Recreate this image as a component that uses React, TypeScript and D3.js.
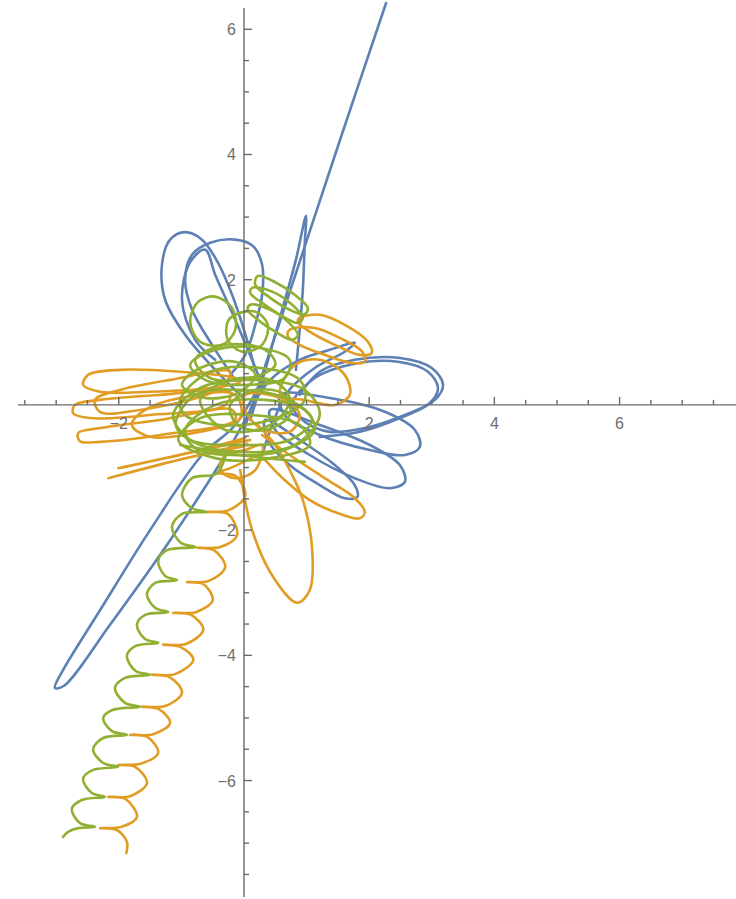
import React from 'react';
import * as d3 from 'd3';

// plot window (data units)
const xDomain: [number, number] = [-3.61, 7.86];
const yDomain: [number, number] = [6.34, -7.86];

const xMajor = [-2, 2, 4, 6];
const yMajor = [-6, -4, -2, 2, 4, 6];

type Pt = [number, number];

// ---- body 1 (blue)
const blueTail: Pt[] = [[0.10, -0.24], [0.34, 0.56], [0.61, 1.52], [0.83, 2.32], [0.99, 3.02], [0.97, 2.56], [0.94, 1.84], [0.89, 1.20], [0.83, 0.56]];
const blueEscape: Pt[] = [[0.00, -0.40], [0.37, 0.72], [0.69, 1.68], [1.02, 2.68], [1.53, 4.22], [2.27, 6.42]];
const blueLongLoop: Pt[] = [[0.29, 0.40], [-0.14, -0.32], [-0.67, -0.80], [-1.50, -2.00], [-2.30, -3.28], [-2.91, -4.27], [-3.02, -4.52], [-2.88, -4.49], [-2.14, -3.51], [-1.18, -2.16], [-0.30, -0.80], [0.02, -0.24], [0.34, 0.40]];
const blueLobeA: Pt[] = [[0.02, 0.08], [-0.46, 0.56], [-0.94, 1.12], [-1.26, 1.68], [-1.31, 2.24], [-1.18, 2.64], [-0.94, 2.76], [-0.67, 2.64], [-0.42, 2.28], [-0.19, 1.76], [0.00, 1.20], [0.18, 0.56]];
const blueLobeB: Pt[] = [[-0.14, 0.40], [-0.51, 0.96], [-0.83, 1.52], [-0.94, 2.00], [-0.83, 2.40], [-0.54, 2.59], [-0.14, 2.64], [0.14, 2.54], [0.29, 2.24], [0.29, 1.76], [0.18, 1.28], [0.02, 0.80], [-0.22, 0.48]];
const blueLobeC: Pt[] = [[0.26, 0.40], [-0.14, 1.36], [-0.46, 2.08], [-0.62, 2.48], [-0.86, 2.28], [-0.99, 1.68], [-0.78, 1.04], [-0.46, 0.72]];
const blueRightA: Pt[] = [[0.89, 0.16], [1.21, 0.53], [1.77, 0.72], [2.49, 0.75], [3.00, 0.59], [3.18, 0.32], [3.05, 0.08], [2.57, -0.16], [1.93, -0.37], [1.37, -0.43], [0.97, -0.27],
  [0.77, 0.00], [1.13, 0.43], [1.73, 0.65], [2.46, 0.69], [2.94, 0.53], [3.10, 0.27], [2.97, 0.03], [2.49, -0.21], [1.85, -0.43], [1.21, -0.51]];
const blueRightB: Pt[] = [[0.58, 0.16], [1.37, 0.11], [2.25, -0.11], [2.73, -0.40], [2.81, -0.67], [2.57, -0.80], [2.01, -0.72], [1.21, -0.48], [0.65, -0.16]];
const blueRightC: Pt[] = [[0.42, -0.08], [1.21, -0.32], [2.01, -0.64], [2.49, -0.96], [2.57, -1.23], [2.33, -1.33], [1.77, -1.17], [1.05, -0.80], [0.50, -0.40]];
const blueRightD: Pt[] = [[0.34, -0.24], [0.89, -0.56], [1.45, -0.96], [1.77, -1.28], [1.81, -1.47], [1.61, -1.49], [1.21, -1.28], [0.73, -0.96], [0.38, -0.56]];
const blueCenter: Pt[] = [[0.10, -0.08], [0.42, 0.40], [0.89, 0.72], [1.37, 0.88], [1.77, 0.99], [1.61, 0.85], [1.13, 0.59], [0.70, 0.21], [0.45, -0.32], [0.29, -0.80]];

// ---- body 2 (orange)
const orangeLeftA: Pt[] = [[-0.14, 0.43], [-1.02, 0.53], [-1.98, 0.56], [-2.49, 0.48], [-2.57, 0.32], [-2.30, 0.21], [-1.50, 0.21], [-0.54, 0.27], [-0.06, 0.37]];
const orangeLeftB: Pt[] = [[-0.22, 0.21], [-1.34, 0.16], [-2.30, 0.08], [-2.70, 0.00], [-2.73, -0.13], [-2.46, -0.21], [-1.50, -0.16], [-0.30, 0.00]];
const orangeLeftC: Pt[] = [[-0.19, -0.08], [-1.34, -0.24], [-2.30, -0.37], [-2.65, -0.45], [-2.62, -0.58], [-2.30, -0.59], [-1.34, -0.48], [-0.14, -0.24]];
const orangeLeftD: Pt[] = [[-0.14, 0.16], [-1.02, 0.11], [-1.58, -0.08], [-1.79, -0.32], [-1.50, -0.51], [-0.70, -0.43], [-0.06, -0.21]];
const orangeLeftE: Pt[] = [[-0.22, 0.53], [-1.18, 0.40], [-1.98, 0.24], [-2.38, 0.08], [-2.30, -0.11], [-1.66, -0.08], [-0.38, 0.27]];
const orangeStreakA: Pt[] = [[0.02, -0.53], [-1.02, -0.80], [-2.01, -1.01], [-1.90, -0.99], [-0.90, -0.77], [0.10, -0.56]];
const orangeStreakB: Pt[] = [[0.00, -0.66], [-1.18, -0.91], [-2.17, -1.17], [-2.05, -1.14], [-1.05, -0.88], [0.05, -0.62]];
const orangeUpperA: Pt[] = [[0.89, 1.39], [1.21, 1.44], [1.61, 1.28], [1.98, 1.01], [2.04, 0.83], [1.85, 0.80], [1.45, 0.96], [1.05, 1.17], [0.86, 1.33]];
const orangeUpperB: Pt[] = [[0.73, 1.20], [1.13, 1.23], [1.53, 1.07], [1.89, 0.85], [1.93, 0.69], [1.73, 0.67], [1.29, 0.80], [0.89, 0.96], [0.70, 1.10]];
const orangeUpperC: Pt[] = [[0.58, 0.16], [0.81, 0.64], [1.21, 0.72], [1.61, 0.48], [1.69, 0.16], [1.45, 0.00], [0.97, 0.08]];
const orangeDrop: Pt[] = [[-0.06, -1.04], [0.13, -2.00], [0.50, -2.80], [0.85, -3.16], [1.05, -2.96], [1.09, -2.32], [0.94, -1.52], [0.73, -1.04], [0.50, -0.64], [0.22, -0.32]];
const orangeSwing: Pt[] = [[0.29, -0.48], [0.73, -0.80], [1.29, -1.17], [1.77, -1.49], [1.93, -1.71], [1.85, -1.81], [1.53, -1.74], [1.05, -1.52], [0.65, -1.20], [0.34, -0.88]];
const orangeSmall: Pt[] = [[0.29, -0.64], [0.18, -1.04], [-0.14, -1.17], [-0.38, -1.04], [-0.30, -0.80], [0.02, -0.72]];
const orangeMid: Pt[] = [[0.02, 0.16], [0.58, 0.11], [0.89, -0.16], [0.73, -0.43], [0.26, -0.37], [0.02, -0.08]];
const orangeHelix: Pt[] = [[0.22, -0.80], [-0.22, -1.01], [-0.43, -1.09], [-0.14, -1.13], [0.02, -1.45], [-0.24, -1.68],
  [-0.59, -1.71], [-0.26, -1.74], [-0.11, -2.08], [-0.38, -2.27],
  [-0.75, -2.28], [-0.48, -2.32], [-0.30, -2.59], [-0.56, -2.81], [-0.91, -2.83], [-0.65, -2.86], [-0.50, -3.12], [-0.77, -3.31],
  [-1.13, -3.32], [-0.85, -3.35], [-0.65, -3.59], [-0.93, -3.82], [-1.29, -3.83], [-1.01, -3.87], [-0.81, -4.07], [-1.10, -4.30],
  [-1.47, -4.31], [-1.18, -4.35], [-0.99, -4.60], [-1.26, -4.81], [-1.63, -4.82], [-1.36, -4.86], [-1.18, -5.08], [-1.45, -5.26],
  [-1.82, -5.27], [-1.55, -5.30], [-1.37, -5.56], [-1.65, -5.73], [-2.01, -5.75], [-1.74, -5.78], [-1.55, -6.04], [-1.82, -6.25],
  [-2.17, -6.26], [-1.90, -6.29], [-1.71, -6.58], [-1.96, -6.74], [-2.30, -6.76], [-2.03, -6.79], [-1.87, -6.98], [-1.88, -7.16]];

// ---- body 3 (green)
const greenHelix: Pt[] = [[-0.27, -0.72], [-0.43, -1.09], [-0.83, -1.17], [-0.99, -1.44], [-0.83, -1.65], [-0.59, -1.71],
  [-0.99, -1.74], [-1.15, -1.95], [-1.01, -2.20], [-0.78, -2.27], [-1.23, -2.32], [-1.37, -2.49], [-1.26, -2.73], [-1.07, -2.80],
  [-1.41, -2.84], [-1.55, -3.02], [-1.42, -3.24], [-1.21, -3.31], [-1.57, -3.35], [-1.71, -3.51], [-1.58, -3.74], [-1.37, -3.80],
  [-1.73, -3.85], [-1.87, -4.01], [-1.73, -4.25], [-1.50, -4.31], [-1.90, -4.36], [-2.06, -4.52], [-1.90, -4.76], [-1.66, -4.82],
  [-2.09, -4.87], [-2.25, -5.00], [-2.11, -5.21], [-1.87, -5.27], [-2.25, -5.32], [-2.41, -5.50], [-2.25, -5.72], [-2.01, -5.78],
  [-2.41, -5.83], [-2.57, -5.97], [-2.43, -6.20], [-2.22, -6.26], [-2.59, -6.31], [-2.75, -6.45], [-2.62, -6.68], [-2.38, -6.74],
  [-2.65, -6.76], [-2.81, -6.82], [-2.89, -6.90]];
const greenUpperA: Pt[] = [[0.22, 2.06], [0.50, 1.96], [0.81, 1.76], [1.02, 1.55], [0.97, 1.45], [0.73, 1.52], [0.42, 1.71], [0.18, 1.92]];
const greenUpperB: Pt[] = [[0.13, 1.87], [0.45, 1.81], [0.77, 1.60], [0.94, 1.39], [0.86, 1.31], [0.61, 1.42], [0.29, 1.63], [0.10, 1.79]];
const greenUpperC: Pt[] = [[0.10, 1.60], [0.42, 1.52], [0.70, 1.33], [0.86, 1.12], [0.77, 1.04], [0.50, 1.17], [0.22, 1.36], [0.06, 1.52]];
const greenRingA: Pt[] = [[-0.46, 1.73], [-0.19, 1.55], [-0.14, 1.20], [-0.35, 0.96], [-0.70, 1.01], [-0.86, 1.33], [-0.73, 1.65]];
const greenRingB: Pt[] = [[-0.14, 1.44], [0.18, 1.49], [0.38, 1.28], [0.29, 0.96], [-0.03, 0.85], [-0.26, 1.04], [-0.26, 1.33]];
const greenCore1: Pt[] = [[-1.13, -0.16], [-0.70, 0.27], [0.10, 0.40], [0.97, 0.24], [1.21, -0.16], [0.81, -0.64], [-0.06, -0.75], [-0.86, -0.56]];
const greenCore2: Pt[] = [[-1.02, 0.08], [-0.54, 0.53], [0.26, 0.59], [0.89, 0.40], [0.97, 0.08], [0.42, -0.24], [-0.38, -0.32], [-0.94, -0.16]];
const greenCore3: Pt[] = [[-0.94, -0.40], [-0.46, 0.00], [0.34, 0.08], [0.97, -0.08], [1.13, -0.40], [0.65, -0.72], [-0.22, -0.80], [-0.78, -0.69]];
const greenCore4: Pt[] = [[-0.86, 0.64], [-0.46, 0.88], [0.26, 0.91], [0.73, 0.72], [0.65, 0.43], [0.02, 0.32], [-0.62, 0.40]];
const greenCore5: Pt[] = [[-1.05, -0.56], [-0.70, -0.21], [0.10, -0.16], [0.89, -0.32], [1.05, -0.64], [0.42, -0.85], [-0.46, -0.85]];
const greenCore6: Pt[] = [[-0.99, 0.32], [-0.70, 0.59], [-0.14, 0.69], [0.18, 0.48], [-0.06, 0.21], [-0.62, 0.11]];
const greenCore7: Pt[] = [[-0.70, 0.08], [-0.22, 0.40], [0.50, 0.37], [0.73, 0.08], [0.42, -0.32], [-0.30, -0.40]];
const greenCore8: Pt[] = [[-0.22, 0.00], [0.18, 0.24], [0.65, 0.16], [0.73, -0.16], [0.34, -0.40], [-0.10, -0.32]];
const greenCore9: Pt[] = [[-1.09, -0.32], [-0.78, 0.16], [-0.06, 0.24], [0.73, 0.08], [1.09, -0.24], [0.73, -0.56], [-0.14, -0.64], [-0.86, -0.56]];
const greenCore10: Pt[] = [[-0.78, 0.72], [-0.30, 0.96], [0.34, 0.88], [0.50, 0.64], [0.10, 0.43], [-0.54, 0.43]];
const greenStreak: Pt[] = [[-1.02, -0.64], [-0.06, -0.80], [0.97, -0.91]];

const series = [
  { color: '#5E81B5', open: [blueTail, blueEscape, blueLongLoop, blueLobeA, blueLobeB, blueLobeC, blueRightA, blueCenter],
    closed: [blueRightB, blueRightC, blueRightD] },
  { color: '#E19C24', open: [orangeStreakA, orangeStreakB, orangeHelix, orangeDrop, orangeSwing],
    closed: [orangeLeftA, orangeLeftB, orangeLeftC, orangeLeftD, orangeLeftE, orangeUpperA, orangeUpperB, orangeUpperC, orangeSmall, orangeMid] },
  { color: '#8FB032', open: [greenHelix, greenStreak],
    closed: [greenUpperA, greenUpperB, greenUpperC, greenRingA, greenRingB, greenCore1, greenCore2, greenCore3, greenCore4,
      greenCore5, greenCore6, greenCore7, greenCore8, greenCore9, greenCore10] },
];

export default function App() {
  const width = 736, height = 899;
  const x = d3.scaleLinear().domain(xDomain).range([18, 736]);
  const y = d3.scaleLinear().domain(yDomain).range([8, 897]);

  const openLine = d3.line<Pt>().x(d => x(d[0])).y(d => y(d[1])).curve(d3.curveCatmullRom.alpha(0.5));
  const closedLine = d3.line<Pt>().x(d => x(d[0])).y(d => y(d[1])).curve(d3.curveCatmullRomClosed.alpha(0.5));

  const xTicks = d3.range(-3.5, 8, 0.5).filter(v => v !== 0);
  const yTicks = d3.range(-7.5, 6.5, 0.5).filter(v => v !== 0);
  const fmt = (v: number) => (v < 0 ? '\u2212' + Math.abs(v) : String(v));

  return (
    <svg width={width} height={height} style={{ position: 'absolute', left: 0, top: 0, background: '#fff' }}>
      <g fill="none" strokeWidth={2.6} strokeLinejoin="round" strokeLinecap="round">
        {series.map((s, i) => (
          <g key={i} stroke={s.color}>
            {s.open.map((p, j) => <path key={'o' + j} d={openLine(p) || ''} />)}
            {s.closed.map((p, j) => <path key={'c' + j} d={closedLine(p) || ''} />)}
          </g>
        ))}
      </g>

      {/* axes */}
      <g stroke="#6b6b6b" strokeWidth={1.4}>
        <line x1={x(xDomain[0])} x2={x(xDomain[1])} y1={y(0)} y2={y(0)} />
        <line x1={x(0)} x2={x(0)} y1={y(yDomain[0])} y2={y(yDomain[1])} />
        {xTicks.map(v => (
          <line key={'xt' + v} x1={x(v)} x2={x(v)} y1={y(0)} y2={y(0) - (v % 2 === 0 ? 8 : 5)} />
        ))}
        {yTicks.map(v => (
          <line key={'yt' + v} x1={x(0)} x2={x(0) + (v % 2 === 0 ? 8 : 5)} y1={y(v)} y2={y(v)} />
        ))}
      </g>
      <g fill="#6e6e6e" fontFamily="'Liberation Sans', Arial, sans-serif" fontSize={16}>
        {xMajor.map(v => (
          <text key={'xl' + v} x={x(v)} y={y(0) + 24} textAnchor="middle">{fmt(v)}</text>
        ))}
        {yMajor.map(v => (
          <text key={'yl' + v} x={x(0) - 8} y={y(v) + 6} textAnchor="end">{fmt(v)}</text>
        ))}
      </g>
    </svg>
  );
}
